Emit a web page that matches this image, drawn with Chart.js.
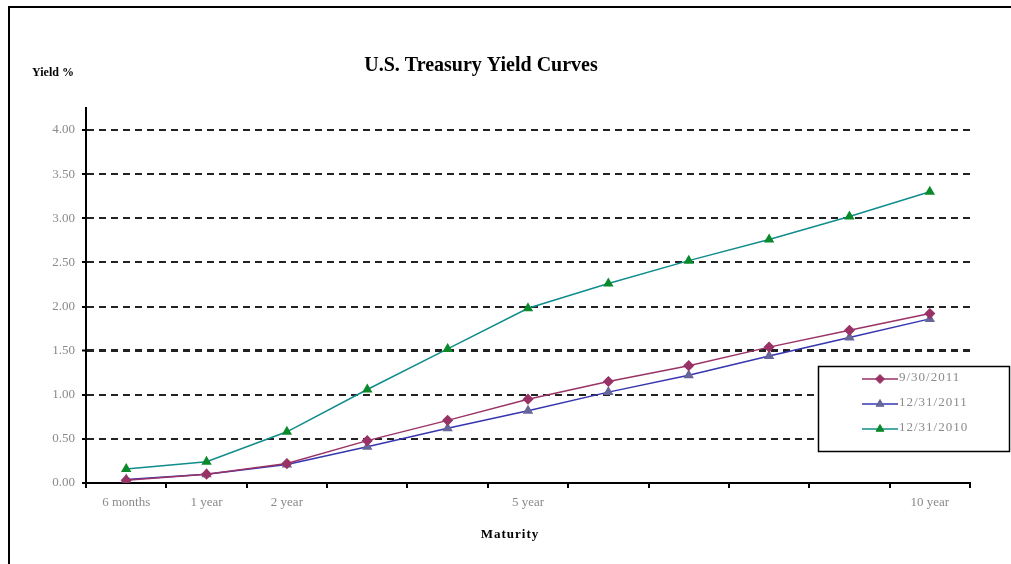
<!DOCTYPE html>
<html lang="en">
<head>
<meta charset="UTF-8">
<title>U.S. Treasury Yield Curves</title>
<script src="https://cdn.jsdelivr.net/npm/chart.js@4.4.0/dist/chart.umd.min.js"></script>
<style>
    body { margin: 0; background: #fff; }
    #wrap { position: relative; width: 1011px; height: 564px; overflow: hidden; }
    #frame { position: absolute; left: 8px; top: 6px; width: 1020px; height: 580px; border-left: 2px solid #000; border-top: 2px solid #000; pointer-events: none; }
</style>
</head>
<body>
<div id="wrap">
    <canvas id="yieldChart" width="1011" height="564"></canvas>
    <div id="frame"></div>
</div>
<script>
    // maturities (only some are labelled on the axis)
    var maturities = ['6 months', '1 year', '2 year', '', '', '5 year', '', '', '', '', '10 year'];

    // yields in %
    var yieldsSep2011 = [0.03, 0.10, 0.22, 0.48, 0.71, 0.95, 1.15, 1.33, 1.54, 1.73, 1.92];
    var yieldsDec2011 = [0.04, 0.10, 0.21, 0.41, 0.62, 0.82, 1.03, 1.22, 1.44, 1.65, 1.86];
    var yieldsDec2010 = [0.16, 0.24, 0.58, 1.06, 1.52, 1.98, 2.26, 2.52, 2.76, 3.02, 3.30];

    var seriesNames = ['9/30/2011', '12/31/2011', '12/31/2010'];

    var serif = '"Liberation Serif", "Times New Roman", serif';
    var greyText = '#8a8a8a';

    // title, axis titles and the boxed legend
    var decorPlugin = {
        id: 'decor',
        afterDraw: function(chart) {
            var ctx = chart.ctx;
            ctx.save();
            ctx.fillStyle = '#000';
            ctx.textBaseline = 'alphabetic';

            ctx.font = 'bold 20px ' + serif;
            ctx.textAlign = 'center';
            ctx.fillText('U.S. Treasury Yield Curves', 481, 71);

            ctx.font = 'bold 12px ' + serif;
            ctx.textAlign = 'left';
            ctx.fillText('Yield %', 32, 76);

            ctx.font = 'bold 13px ' + serif;
            ctx.textAlign = 'center';
            if ('letterSpacing' in ctx) ctx.letterSpacing = '1px';
            ctx.fillText('Maturity', 510, 538);

            // legend
            ctx.fillStyle = '#fff';
            ctx.fillRect(818.5, 366.5, 191, 85);
            ctx.strokeStyle = '#000';
            ctx.lineWidth = 1.5;
            ctx.strokeRect(818.5, 366.5, 191, 85);

            ctx.font = '13px ' + serif;
            ctx.textAlign = 'left';
            chart.data.datasets.forEach(function(ds, i) {
                var y = 379 + i * 25;
                ctx.strokeStyle = ds.borderColor;
                ctx.lineWidth = ds.borderWidth;
                ctx.beginPath();
                ctx.moveTo(862, y);
                ctx.lineTo(898, y);
                ctx.stroke();
                ctx.fillStyle = ds.pointBackgroundColor;
                ctx.strokeStyle = ds.pointBorderColor;
                ctx.lineWidth = 1;
                Chart.helpers.drawPoint(ctx, {
                    pointStyle: ds.pointStyle,
                    radius: ds.pointRadius,
                    rotation: 0,
                    borderWidth: 1
                }, 880, y);
                ctx.fillStyle = greyText;
                ctx.fillText(ds.label, 899, y + 2);
            });
            ctx.restore();
        }
    };

    var ctx = document.getElementById('yieldChart').getContext('2d');
    var chart = new Chart(ctx, {
        type: 'line',
        data: {
            labels: maturities,
            datasets: [
                {
                    label: seriesNames[0],
                    data: yieldsSep2011,
                    borderColor: '#993366',
                    borderWidth: 1.5,
                    pointStyle: 'rectRot',
                    pointRadius: 4.5,
                    pointBackgroundColor: '#993366',
                    pointBorderColor: '#993366',
                    tension: 0
                },
                {
                    label: seriesNames[1],
                    data: yieldsDec2011,
                    borderColor: '#3535b0',
                    borderWidth: 1.5,
                    pointStyle: 'triangle',
                    pointRadius: 4.5,
                    pointBackgroundColor: '#666699',
                    pointBorderColor: '#666699',
                    tension: 0
                },
                {
                    label: seriesNames[2],
                    data: yieldsDec2010,
                    borderColor: '#108c8c',
                    borderWidth: 1.5,
                    pointStyle: 'triangle',
                    pointRadius: 4.5,
                    pointBackgroundColor: '#0a8a2a',
                    pointBorderColor: '#0a8a2a',
                    tension: 0
                }
            ]
        },
        options: {
            responsive: false,
            animation: false,
            layout: { padding: { left: 0, top: 108, right: 41, bottom: 51 } },
            plugins: {
                legend: { display: false },
                title: { display: false },
                tooltip: { enabled: false }
            },
            scales: {
                x: {
                    type: 'category',
                    offset: true,
                    grid: {
                        offset: true,
                        drawOnChartArea: false,
                        drawTicks: true,
                        tickLength: 5,
                        color: '#000',
                        lineWidth: 2
                    },
                    border: { color: '#000', width: 2 },
                    ticks: {
                        autoSkip: false,
                        maxRotation: 0,
                        color: greyText,
                        font: { family: serif, size: 13 },
                        padding: 7
                    },
                    afterFit: function(scale) { scale.height = 30; }
                },
                y: {
                    min: 0,
                    max: 4.25,
                    ticks: {
                        stepSize: 0.5,
                        color: greyText,
                        font: { family: serif, size: 13 },
                        padding: 7,
                        callback: function(v) { return v.toFixed(2); }
                    },
                    afterBuildTicks: function(scale) {
                        scale.ticks = scale.ticks.filter(function(t) { return t.value <= 4.001; });
                    },
                    afterFit: function(scale) { scale.width = 86; },
                    grid: {
                        color: '#222',
                        lineWidth: function(c) { return c.tick && c.tick.value === 1.5 ? 3 : 2; },
                        tickBorderDash: [],
                        tickLength: 4,
                        tickColor: '#000',
                        tickWidth: 2
                    },
                    border: { color: '#000', width: 2, dash: [7, 5] }
                }
            }
        },
        plugins: [decorPlugin]
    });
</script>
</body>
</html>
